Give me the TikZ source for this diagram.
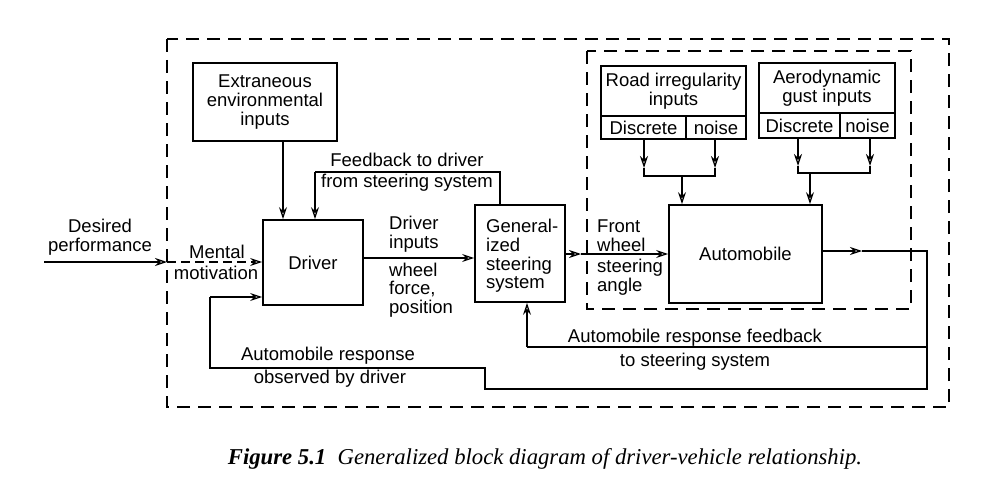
\documentclass[tikz,border=0pt]{standalone}
\usepackage{fontspec}
\setmainfont{Liberation Sans}
\newfontfamily\capfont{Liberation Serif}
\usetikzlibrary{arrows.meta}
\begin{document}
\begin{tikzpicture}[x=1pt,y=-1pt,
  every node/.style={font=\fontsize{18.5}{18.7}\selectfont, inner sep=0pt},
  blk/.style={draw, line width=1.8pt, minimum width=#1},
  ln/.style={line width=1.7pt},
  arr/.style={line width=1.7pt, -{Stealth[open,length=12pt,width=8pt,line width=1.3pt]}},
  dbox/.style={line width=2.3pt, dash pattern=on 13pt off 8pt},
  lbl/.style={align=center},
  lbll/.style={align=left, anchor=west}]
\useasboundingbox[fill=white] (0,0) rectangle (987,495);
% dashed boxes
\draw[dbox] (167,39) rectangle (949,407);
\draw[dbox] (587,51) rectangle (911,309);
% blocks
\node[blk=144pt, minimum height=78pt, lbl] (ext) at (265,102) {Extraneous\\environmental\\inputs};
\node[blk=100pt, minimum height=85pt] (drv) at (313,262.5) {Driver};
\node[blk=90pt, minimum height=97pt] (str) at (520,253.5) {};
\node[lbll] (strt) at (486,256) {General-\\ized\\steering\\system};
\node[blk=153pt, minimum height=98pt] (aut) at (745.5,254) {Automobile};
% road irregularity
\node[blk=145pt, minimum height=50pt, lbl] (roadT) at (673.5,91) {Road irregularity\\inputs};
\node[blk=85pt, minimum height=23pt] (roadD) at (643.5,127.5) {Discrete};
\node[blk=60pt, minimum height=23pt] (roadN) at (716,127.5) {noise};
% aerodynamic
\node[blk=136pt, minimum height=50pt, lbl] (aerT) at (827,88) {Aerodynamic\\gust inputs};
\node[blk=81pt, minimum height=25pt] (aerD) at (799.5,125.5) {Discrete};
\node[blk=55pt, minimum height=25pt] (aerN) at (867.5,125.5) {noise};
% helper coordinates
\coordinate (xA) at (283,0);
\coordinate (xB) at (315,0);
\coordinate (xC) at (500,0);
\coordinate (yFB) at (0,172);
\coordinate (dsrc) at (44,262);
\coordinate (dbnd) at (167,262);
\coordinate (sgap) at (581,254);
\coordinate (aout) at (862,251);
\coordinate (rR) at (927,251);
\coordinate (rB) at (927,389);
\coordinate (rS) at (485,389);
\coordinate (rT) at (485,368);
\coordinate (rL) at (210,368);
\coordinate (rD) at (210,297);
\coordinate (br) at (927,347);
\coordinate (brL) at (527,347);
\coordinate (r1) at (644,168);
\coordinate (r2) at (715,168);
\coordinate (rj) at (682,176);
\coordinate (a1) at (798,166);
\coordinate (a2) at (870,166);
\coordinate (aj) at (810,173);
% connectors
\draw[arr] (xA |- ext.south) -- (xA |- drv.north);
\draw[ln] (xC |- str.north) -- (xC |- yFB) -- (xB |- yFB);
\draw[arr] (xB |- yFB) -- (xB |- drv.north);
\draw[arr] (dsrc) -- (dbnd);
\draw[arr, dash pattern=on 9pt off 5pt] (dbnd) -- (dbnd -| drv.west);
\draw[arr] (drv.east |- 0,258) -- (str.west |- 0,258);
\draw[arr] (str.east |- sgap) -- (sgap);
\draw[arr] (sgap) -- (aut.west |- sgap);
\draw[arr] (aut.east |- aout) -- (aout);
\draw[ln] (aout) -- (rR) -- (rB) -- (rS) -- (rT) -- (rL) -- (rD);
\draw[arr] (rD) -- (rD -| drv.west);
\draw[ln] (br) -- (brL);
\draw[arr] (brL) -- (brL |- str.south);
% road arrows
\draw[arr] (r1 |- roadD.south) -- (r1);
\draw[arr] (r2 |- roadN.south) -- (r2);
\draw[ln] (r1) -- (r1 |- rj) -- (r2 |- rj) -- (r2);
\draw[arr] (rj) -- (rj |- aut.north);
% aero arrows
\draw[arr] (a1 |- aerD.south) -- (a1);
\draw[arr] (a2 |- aerN.south) -- (a2);
\draw[ln] (a1) -- (a1 |- aj) -- (a2 |- aj) -- (a2);
\draw[arr] (aj) -- (aj |- aut.north);
% labels
\node[lbl] (lDes) at (100,237) {Desired\\performance};
\node (lMen) at (217,252) {Mental};
\node (lMot) at (216,273) {motivation};
\node[lbll] (lDin) at (389,234) {Driver\\inputs};
\node[lbll] (lWhl) at (389,290) {wheel\\force,\\position};
\node (lFb1) at (407,160) {Feedback to driver};
\node (lFb2) at (407,183) {from steering system};
\node[lbll] (lFw) at (597,236) {Front\\wheel};
\node[lbll] (lSa) at (597,277) {steering\\angle};
\node (lAr1) at (695,338) {Automobile response feedback};
\node (lAr2) at (695,362) {to steering system};
\node (lOb1) at (328,356) {Automobile response};
\node (lOb2) at (330,379) {observed by driver};
\node[font=\capfont\fontsize{22.7}{26}\selectfont\itshape] (cap) at (545,459) {\textbf{Figure 5.1}\ \ Generalized block diagram of driver-vehicle relationship.};
\end{tikzpicture}
\end{document}
